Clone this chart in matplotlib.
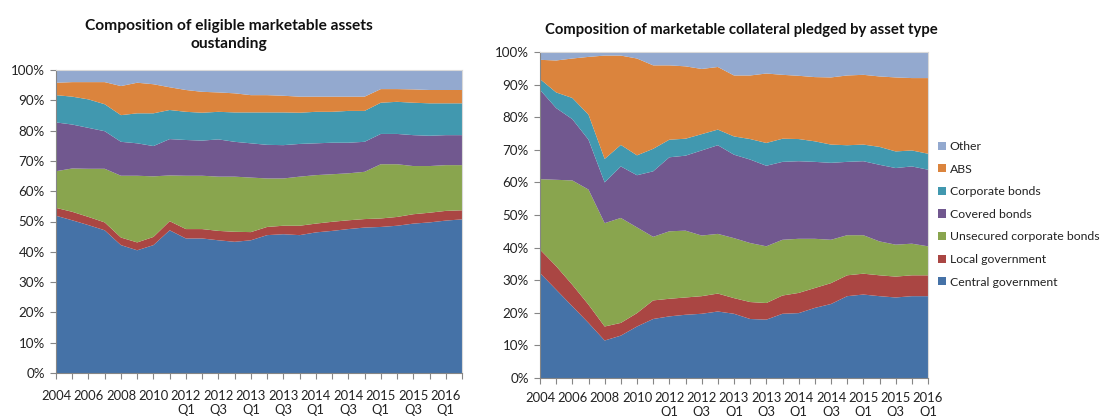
import matplotlib
matplotlib.use("Agg")
import matplotlib.pyplot as plt
from matplotlib.patches import Patch
from matplotlib.ticker import FuncFormatter

plt.rcParams["font.family"] = ["Lato", "DejaVu Sans"]

# -----------------------------
# Data (shares in %, stacked bottom -> top)
# -----------------------------

series_names = [
    "Central government",
    "Local government",
    "Unsecured corporate bonds",
    "Covered bonds",
    "Corporate bonds",
    "ABS",
    "Other",
]
colors = ["#4572A7", "#AA4643", "#89A54E", "#71588F", "#4198AF", "#DB843D", "#93A9CF"]

years = ["2004", "2005", "2006", "2007", "2008", "2009", "2010", "2011"]
quarters = [f"{y}\nQ{q}" for y in range(2012, 2017) for q in range(1, 5)]

# left chart: eligible marketable assets outstanding (2004 .. 2016 Q2)
left_cats = years + quarters[:18]
left_central = [51.9, 50.4, 48.8, 47.1, 42.2, 40.5, 42.2, 47.1, 44.4, 44.4, 43.8, 43.3, 43.8,
                45.5, 45.8, 45.5, 46.4, 46.9, 47.5, 48.0, 48.2, 48.6, 49.3, 49.7, 50.3, 50.7]
left_local = [2.6, 2.8, 2.7, 2.6, 2.5, 2.6, 2.7, 3.0, 3.1, 3.1, 3.1, 3.3, 2.7,
              2.7, 2.8, 3.1, 2.9, 3.0, 2.9, 2.8, 2.8, 2.9, 3.1, 3.2, 3.2, 3.0]
left_unsecured = [12.1, 14.3, 15.9, 17.7, 20.4, 22.0, 20.0, 15.1, 17.6, 17.6, 17.9, 18.2, 18.0,
                  16.0, 15.6, 16.2, 16.0, 15.7, 15.5, 15.6, 17.9, 17.4, 15.9, 15.4, 15.1, 14.9]
left_covered = [16.1, 14.5, 13.5, 12.4, 11.2, 10.7, 10.0, 12.0, 11.8, 11.6, 12.3, 11.5, 11.3,
                11.1, 11.0, 10.8, 10.5, 10.4, 10.1, 9.9, 10.0, 10.0, 10.2, 10.0, 9.9, 9.9]
left_corporate = [9.0, 9.2, 9.4, 8.9, 8.8, 9.9, 10.8, 9.6, 9.3, 9.2, 9.1, 9.7, 10.2,
                  10.7, 10.8, 10.3, 10.4, 10.2, 10.5, 10.2, 10.3, 10.6, 10.7, 10.7, 10.5, 10.5]
left_abs = [4.1, 4.8, 5.7, 7.3, 9.6, 10.1, 9.6, 7.5, 7.2, 6.9, 6.4, 6.3, 5.7,
            5.7, 5.5, 5.3, 5.0, 5.0, 4.7, 4.7, 4.5, 4.2, 4.4, 4.4, 4.4, 4.4]
left_other = [4.2, 4.0, 4.0, 4.0, 5.3, 4.2, 4.7, 5.7, 6.6, 7.2, 7.4, 7.7, 8.3,
              8.3, 8.5, 8.8, 8.8, 8.8, 8.8, 8.8, 6.3, 6.3, 6.4, 6.6, 6.6, 6.6]

# right chart: marketable collateral pledged (2004 .. 2016 Q1)
right_cats = years + quarters[:17]
right_central = [32.2, 27.1, 22.0, 16.9, 11.5, 13.0, 15.8, 18.1, 18.9, 19.4, 19.7, 20.4, 19.7,
                 18.1, 17.9, 19.7, 19.9, 21.5, 22.7, 25.1, 25.6, 25.1, 24.7, 25.1, 25.1]
right_local = [7.2, 7.2, 6.6, 5.6, 4.3, 3.9, 4.1, 5.7, 5.4, 5.3, 5.4, 5.5, 4.8,
               5.2, 5.1, 5.6, 6.2, 6.1, 6.4, 6.4, 6.4, 6.4, 6.4, 6.4, 6.4]
right_unsecured = [21.6, 26.5, 32.0, 35.3, 31.7, 32.2, 26.3, 19.5, 20.7, 20.5, 18.6, 18.3, 18.4,
                   18.1, 17.4, 17.1, 16.6, 15.1, 13.3, 12.3, 11.8, 10.4, 9.8, 9.7, 8.9]
right_covered = [27.4, 22.0, 18.8, 15.3, 12.5, 15.8, 16.0, 20.1, 22.7, 23.0, 26.1, 27.2, 25.6,
                 25.6, 24.7, 23.9, 23.8, 23.6, 23.6, 22.5, 22.7, 23.5, 23.5, 23.7, 23.5]
right_corporate = [3.3, 4.8, 6.5, 7.7, 7.2, 6.6, 6.1, 6.9, 5.4, 5.2, 5.0, 4.8, 5.6,
                   6.3, 7.0, 7.1, 6.8, 6.3, 5.6, 5.1, 5.1, 5.5, 5.1, 4.9, 4.9]
right_abs = [5.9, 9.8, 12.1, 17.7, 31.7, 27.4, 29.7, 25.6, 22.8, 22.2, 20.0, 19.2, 18.7,
             19.5, 21.3, 19.6, 19.4, 19.7, 20.6, 21.4, 21.4, 21.6, 22.7, 22.2, 23.2]
right_other = [2.4, 2.6, 2.0, 1.5, 1.1, 1.1, 2.0, 4.1, 4.1, 4.4, 5.2, 4.6, 7.2,
               7.2, 6.6, 7.0, 7.3, 7.7, 7.8, 7.2, 7.0, 7.5, 7.8, 8.0, 8.0]

left_series = [left_central, left_local, left_unsecured, left_covered,
               left_corporate, left_abs, left_other]
right_series = [right_central, right_local, right_unsecured, right_covered,
                right_corporate, right_abs, right_other]


# -----------------------------
# Helpers
# -----------------------------

def draw_stack(ax, cats, series, xpad):
    x = list(range(len(cats)))
    ax.stackplot(x, *series, colors=colors, linewidth=0)
    ax.set_xlim(0, len(cats) - 1)
    ax.set_ylim(0, 100)

    ax.set_yticks(range(0, 101, 10))
    ax.yaxis.set_major_formatter(FuncFormatter(lambda v, _: f"{v:.0f}%"))

    ax.set_xticks(x)
    ax.set_xticklabels([c if i % 2 == 0 else "" for i, c in enumerate(cats)],
                       linespacing=1.2)

    for side in ("top", "right"):
        ax.spines[side].set_color("#D9D9D9")
        ax.spines[side].set_linewidth(0.8)
    for side in ("left", "bottom"):
        ax.spines[side].set_color("#868686")
        ax.spines[side].set_linewidth(0.8)
    ax.tick_params(axis="both", colors="#868686", length=4, width=0.8,
                   labelcolor="#222222")
    ax.tick_params(axis="x", pad=xpad, labelsize=9.4)
    ax.tick_params(axis="y", pad=4, labelsize=9.6)


# -----------------------------
# Figure
# -----------------------------

fig = plt.figure(figsize=(11.02, 4.16), dpi=100)

ax1 = fig.add_axes([56 / 1102, 1 - 373 / 416, 406 / 1102, 303 / 416])
draw_stack(ax1, left_cats, left_series, xpad=8)

ax2 = fig.add_axes([540 / 1102, 1 - 378 / 416, 388 / 1102, 326 / 416])
draw_stack(ax2, right_cats, right_series, xpad=6)

fig.text(229 / 1102, 1 - 35 / 416,
         "Composition of eligible marketable assets\noustanding",
         ha="center", va="center", fontsize=11.2, fontweight="bold",
         linespacing=1.4, color="#111111")
fig.text(741 / 1102, 1 - 30 / 416,
         "Composition of marketable collateral pledged by asset type",
         ha="center", va="center", fontsize=10.7, fontweight="bold", color="#111111")

handles = [Patch(facecolor=c, edgecolor="none") for c in colors]
leg = fig.legend(handles[::-1], series_names[::-1],
                 loc="upper left", bbox_to_anchor=(938 / 1102, 1 - 141 / 416),
                 frameon=False, fontsize=8.8, handlelength=0.65, handleheight=0.65,
                 handletextpad=0.3, labelspacing=0.95, borderaxespad=0,
                 borderpad=0)
for t in leg.get_texts():
    t.set_color("#222222")

fig.savefig("out.png", dpi=100)
